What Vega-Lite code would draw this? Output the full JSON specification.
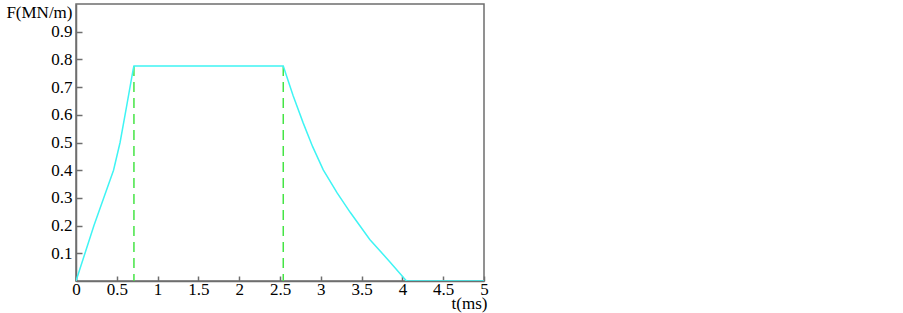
{
  "$schema": "https://vega.github.io/schema/vega-lite/v6.json",
  "width": 408,
  "height": 277,
  "autosize": "none",
  "padding": {"left": 76, "top": 4, "right": 419, "bottom": 32},
  "background": "white",
  "config": {
    "view": {"stroke": "#6e6e6e", "strokeWidth": 1.5},
    "font": "Liberation Serif"
  },
  "datasets": {
    "force": [
      {"t": 0, "F": 0},
      {"t": 0.22, "F": 0.2},
      {"t": 0.46, "F": 0.4},
      {"t": 0.54, "F": 0.5},
      {"t": 0.62, "F": 0.63},
      {"t": 0.70, "F": 0.763},
      {"t": 0.71, "F": 0.776},
      {"t": 2.54, "F": 0.776},
      {"t": 2.66, "F": 0.67},
      {"t": 2.785, "F": 0.57},
      {"t": 2.9, "F": 0.485},
      {"t": 3.03, "F": 0.401},
      {"t": 3.2, "F": 0.318},
      {"t": 3.36, "F": 0.248},
      {"t": 3.6, "F": 0.15},
      {"t": 3.85, "F": 0.068},
      {"t": 4.05, "F": 0},
      {"t": 5, "F": 0}
    ],
    "marks": [
      {"t": 0.71, "F": 0.776, "F0": 0},
      {"t": 2.54, "F": 0.776, "F0": 0}
    ]
  },
  "encoding": {
    "x": {
      "field": "t", "type": "quantitative",
      "scale": {"domain": [0, 5], "nice": false, "zero": false},
      "axis": {
        "values": [0, 0.5, 1, 1.5, 2, 2.5, 3, 3.5, 4, 4.5, 5],
        "format": "~g",
        "grid": false, "domainColor": "#6e6e6e", "domainWidth": 1.5,
        "tickColor": "#6e6e6e", "tickSize": -5, "tickWidth": 1.5,
        "labelFont": "Liberation Serif", "labelFontSize": 17, "labelColor": "black",
        "labelPadding": 5, "labelFlush": false, "labelOverlap": false,
        "title": "t(ms)", "titleFont": "Liberation Serif", "titleFontSize": 17,
        "titleFontWeight": "normal", "titleColor": "black",
        "titleAlign": "right", "titleAnchor": "end", "titleX": 411, "titleY": 22,
        "titleBaseline": "middle"
      }
    },
    "y": {
      "field": "F", "type": "quantitative",
      "scale": {"domain": [0, 1], "nice": false},
      "axis": {
        "values": [0.1, 0.2, 0.3, 0.4, 0.5, 0.6, 0.7, 0.8, 0.9],
        "format": "~g",
        "grid": false, "domainColor": "#6e6e6e", "domainWidth": 1.5,
        "tickColor": "#6e6e6e", "tickSize": -6, "tickWidth": 1.5,
        "labelFont": "Liberation Serif", "labelFontSize": 17, "labelColor": "black",
        "labelPadding": 10, "labelFlush": false, "labelOverlap": false,
        "title": "F(MN/m)", "titleFont": "Liberation Serif", "titleFontSize": 17,
        "titleFontWeight": "normal", "titleColor": "black", "titleAngle": 0,
        "titleAlign": "right", "titleX": -4, "titleY": 8, "titleBaseline": "middle"
      }
    }
  },
  "layer": [
    {
      "data": {"name": "marks"},
      "mark": {"type": "rule", "color": "#45e445", "strokeWidth": 1.5, "strokeDash": [10, 6]},
      "encoding": {
        "y2": {"field": "F0"}
      }
    },
    {
      "data": {"name": "force"},
      "mark": {"type": "line", "color": "#3ff4f4", "strokeWidth": 1.5, "clip": true},
      "encoding": {}
    }
  ]
}
